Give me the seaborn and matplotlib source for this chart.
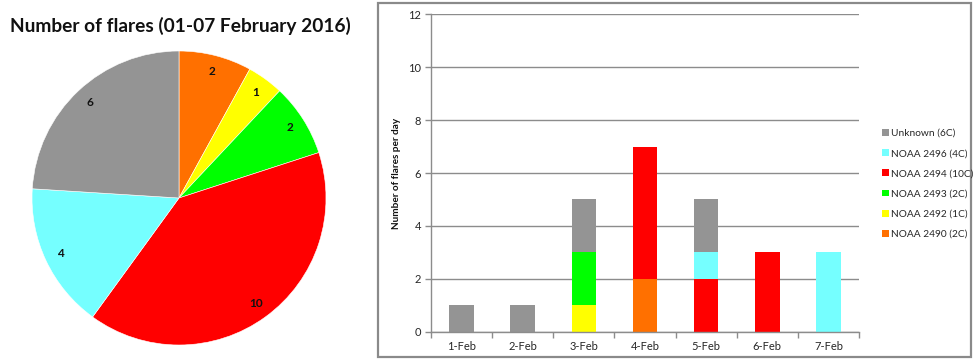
import matplotlib
matplotlib.use("Agg")
import matplotlib.pyplot as plt
from matplotlib.patches import Rectangle, Patch
import seaborn as sns
import pandas as pd
import numpy as np

# ---------------- data ----------------
days = ["1-Feb", "2-Feb", "3-Feb", "4-Feb", "5-Feb", "6-Feb", "7-Feb"]
series = ["Unknown (6C)", "NOAA 2496 (4C)", "NOAA 2494 (10C)",
          "NOAA 2493 (2C)", "NOAA 2492 (1C)", "NOAA 2490 (2C)"]
unknown = [1, 1, 2, 0, 2, 0, 0]
noaa2496 = [0, 0, 0, 0, 1, 0, 3]
noaa2494 = [0, 0, 0, 5, 2, 3, 0]
noaa2493 = [0, 0, 2, 0, 0, 0, 0]
noaa2492 = [0, 0, 1, 0, 0, 0, 0]
noaa2490 = [0, 0, 0, 2, 0, 0, 0]

# pie (clockwise from top)
pie_labels = ["NOAA 2490", "NOAA 2492", "NOAA 2493", "NOAA 2494", "NOAA 2496", "Unknown"]
pie_values = [2, 1, 2, 10, 4, 6]

title = "Number of flares (01-07 February 2016)"
ylabel = "Number of flares per day"
yticks = [0, 2, 4, 6, 8, 10, 12]

# ---------------- styles ----------------
c_gray = "#949494"
c_cyan = "#75FFFF"
c_red = "#FF0000"
c_green = "#00FF00"
c_yellow = "#FFFF00"
c_orange = "#FF7000"
series_colors = [c_gray, c_cyan, c_red, c_green, c_yellow, c_orange]
pie_colors = [c_orange, c_yellow, c_green, c_red, c_cyan, c_gray]

sns.set_theme(style="white")
FONT = ["Lato", "DejaVu Sans"]
plt.rcParams["font.family"] = FONT

W, H = 975, 360
fig = plt.figure(figsize=(W / 100, H / 100), dpi=100)

# ---------------- pie ----------------
cx, cy, r = 179, 198, 147
axp = fig.add_axes([(cx - r) / W, (H - cy - r) / H, 2 * r / W, 2 * r / H])
total = sum(pie_values)
wedges, texts, autotexts = axp.pie(
    pie_values, colors=pie_colors, startangle=90, counterclock=False,
    autopct=lambda p: f"{int(round(p * total / 100))}", pctdistance=0.89,
    wedgeprops=dict(linewidth=0.4, edgecolor="white"),
    textprops=dict(fontsize=8.5, fontweight="bold", color="#111111"))
axp.set_aspect("auto")
axp.set_xlim(-1, 1)
axp.set_ylim(-1, 1)
axp.axis("off")

fig.text(180 / W, 1 - 26 / H, title, ha="center", va="center",
         fontsize=13.8, fontweight="bold", color="#111111")

# ---------------- stacked bars ----------------
rows = []
vals = [unknown, noaa2496, noaa2494, noaa2493, noaa2492, noaa2490]
for name, v in zip(series, vals):
    for d, n in zip(days, v):
        rows.append({"day": d, "region": name, "count": n})
df = pd.DataFrame(rows)

x0, x1 = 431, 859
y0, y1 = 14.3, 331.7
ax = fig.add_axes([x0 / W, (H - y1) / H, (x1 - x0) / W, (y1 - y0) / H])
sns.histplot(data=df, x="day", weights="count", hue="region",
             hue_order=series, palette=series_colors, multiple="stack",
             discrete=True, shrink=0.4, linewidth=0, alpha=1,
             legend=False, ax=ax)
ax.set_xlim(-0.5, len(days) - 0.5)
ax.set_ylim(0, 12)
ax.set_yticks(yticks)
ax.set_xticks(range(len(days)))
ax.set_xticklabels(days)
ax.set_xticks(np.arange(-0.5, len(days), 1.0), minor=True)
ax.grid(axis="y", color="#8C8C8C", linewidth=1.0)
ax.set_axisbelow(True)
for s in ["top", "right"]:
    ax.spines[s].set_visible(False)
for s in ["left", "bottom"]:
    ax.spines[s].set_color("#8C8C8C")
    ax.spines[s].set_linewidth(1.0)
ax.tick_params(axis="x", which="major", length=0, pad=7, labelsize=8, labelcolor="#262626")
ax.tick_params(axis="x", which="minor", length=4, width=1, color="#8C8C8C", direction="out", bottom=True)
ax.tick_params(axis="y", length=4, width=1, color="#8C8C8C", direction="out", left=True,
               labelsize=8, labelcolor="#262626", pad=3)
ax.set_xlabel("")
ax.set_ylabel(ylabel, fontsize=7.2, fontweight="bold", color="#111111", labelpad=5)

handles = [Patch(facecolor=c, edgecolor="none") for c in series_colors]
leg = fig.legend(handles, series, loc="upper left",
                 bbox_to_anchor=(877 / W, 1 - 124 / H), frameon=False,
                 fontsize=7.3, handlelength=0.65, handleheight=0.65,
                 handletextpad=0.25, labelspacing=1.1, borderpad=0)
for t in leg.get_texts():
    t.set_color("#262626")

# panel border
fig.add_artist(Rectangle((378 / W, 1 - 357 / H), (971 - 378) / W, (357 - 3) / H,
                         transform=fig.transFigure, fill=False,
                         edgecolor="#8A8A8A", linewidth=1.6))

fig.savefig("out.png", dpi=100)
